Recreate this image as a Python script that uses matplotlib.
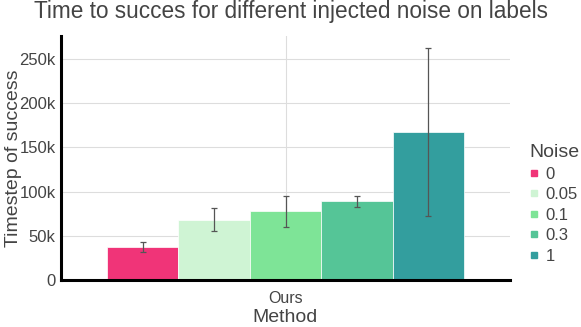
import numpy as np
import matplotlib.pyplot as plt
from matplotlib.lines import Line2D

plt.rcParams['font.family'] = ['Liberation Sans', 'DejaVu Sans']

noise = ['0', '0.05', '0.1', '0.3', '1']
steps = [37000, 68000, 77500, 89000, 167000]
errs = [5500, 13000, 17000, 6500, 95000]
colors = ['#f03478', '#cff4d4', '#7ee497', '#55c597', '#339e9e']
method = ['Ours']

fig = plt.figure(figsize=(5.81, 3.27), dpi=100)
ax = fig.add_axes([61 / 581, 47 / 327, 449 / 581, 244 / 327])

n = len(noise)
width = 0.159
for i in range(n):
    x = (i - (n - 1) / 2) * width
    ax.bar(x, steps[i], width=width, color=colors[i], edgecolor='white', linewidth=0.5, zorder=2)
    ax.errorbar(x, steps[i], yerr=errs[i], fmt='none', ecolor='#555555',
                elinewidth=0.9, capsize=2, capthick=0.9, zorder=3)

ax.set_xlim(-0.5, 0.5)
ax.set_ylim(0, 276000)
ax.set_xticks([0])
ax.set_xticklabels(method)
ax.set_yticks(np.arange(0, 250001, 50000))
ax.set_yticklabels(['0', '50k', '100k', '150k', '200k', '250k'])
ax.grid(True, color='#dddddd', linewidth=0.8, zorder=0)
ax.set_axisbelow(True)
for s in ['top', 'right']:
    ax.spines[s].set_visible(False)
ax.spines['left'].set_linewidth(2.2)
ax.spines['bottom'].set_linewidth(2.2)
ax.tick_params(axis='y', length=0, labelsize=12, labelcolor='#444444', pad=4)
ax.tick_params(axis='x', length=0, labelsize=11.5, labelcolor='#444444', pad=8)
ax.set_xlabel('Method', fontsize=14, color='#444444', labelpad=2)
ax.set_ylabel('Timestep of success', fontsize=14, color='#444444')
ax.yaxis.set_label_coords(-39 / 449, 0.5)

fig.suptitle('Time to succes for different injected noise on labels', fontsize=16.3,
             color='#444444', y=1.0)

handles = [Line2D([], [], marker='s', linestyle='none', markersize=4,
                  markerfacecolor=c, markeredgecolor=c) for c in colors]
leg = fig.legend(handles, noise, title='Noise', loc='upper left',
                 bbox_to_anchor=(514 / 581, 1 - 129 / 327), frameon=False,
                 fontsize=12, title_fontsize=14, handlelength=0.6,
                 handletextpad=0.4, labelspacing=0.33, alignment='left')
for t in leg.get_texts():
    t.set_color('#444444')
leg.get_title().set_color('#444444')

fig.savefig('out.png', dpi=100)
